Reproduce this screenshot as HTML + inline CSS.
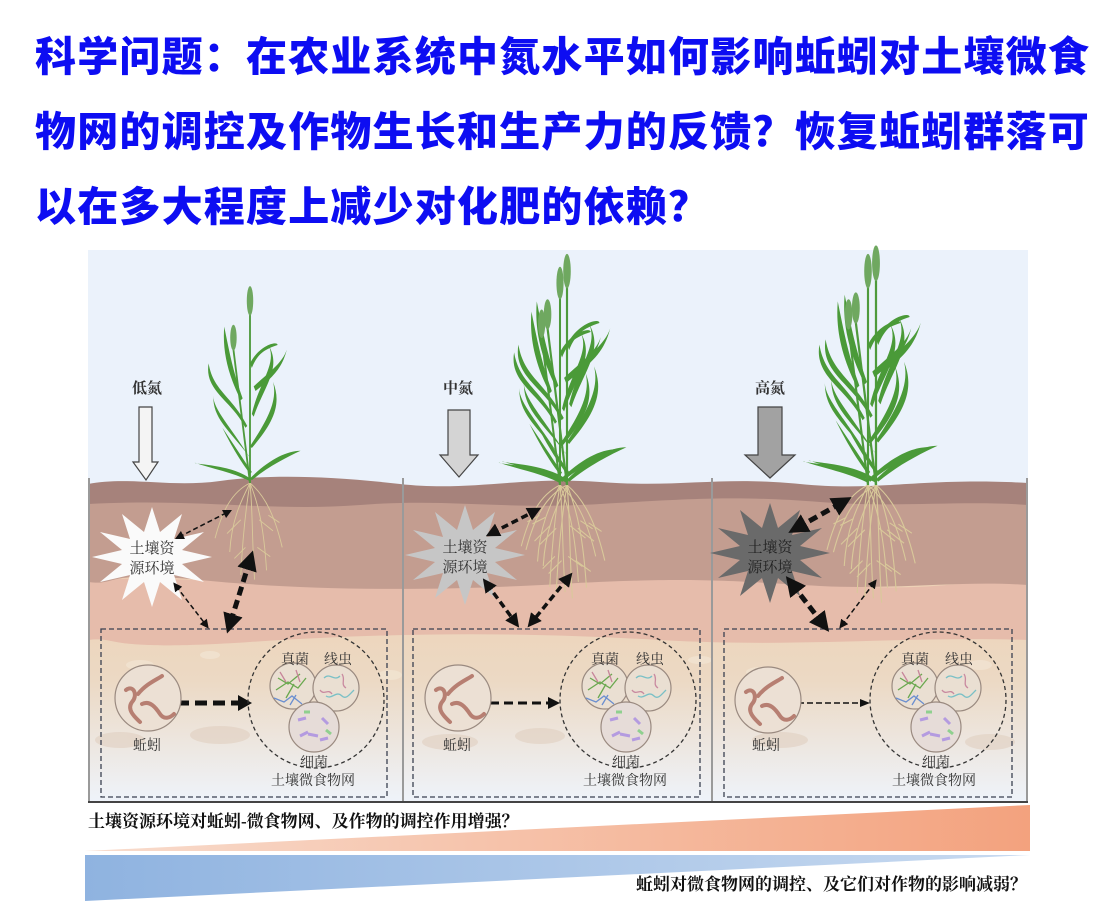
<!DOCTYPE html>
<html><head><meta charset="utf-8">
<style>
html,body{margin:0;padding:0;background:#fff;width:1116px;height:916px;overflow:hidden}
.t{position:absolute;left:35px;font-family:"Noto Sans CJK SC","Liberation Sans",sans-serif;font-weight:900;font-size:41px;color:#0d0df2;letter-spacing:1.2px;white-space:nowrap;line-height:50px}
svg{position:absolute;left:0;top:0}
.s{font-family:"Liberation Serif","Noto Serif CJK SC",serif;fill:#333}
</style></head><body>
<div class="t" style="top:28px">科学问题：在农业系统中氮水平如何影响蚯蚓对土壤微食</div>
<div class="t" style="top:103px">物网的调控及作物生长和生产力的反馈？恢复蚯蚓群落可</div>
<div class="t" style="top:178px">以在多大程度上减少对化肥的依赖？</div>
<svg width="1116" height="916" viewBox="0 0 1116 916">
<defs>
<linearGradient id="low" x1="0" y1="0" x2="0" y2="1">
<stop offset="0" stop-color="#e8bfab"/><stop offset="0.12" stop-color="#eed3b7"/>
<stop offset="0.5" stop-color="#ecd9c4"/><stop offset="1" stop-color="#eef3fa"/>
</linearGradient>
<linearGradient id="og" x1="0" y1="0" x2="1" y2="0">
<stop offset="0" stop-color="#f8dccd"/><stop offset="1" stop-color="#f3a27e"/></linearGradient>
<linearGradient id="bg" x1="0" y1="0" x2="1" y2="0">
<stop offset="0" stop-color="#8fb3e0"/><stop offset="1" stop-color="#c8daf0"/></linearGradient>
<marker id="mt" viewBox="0 0 10 10" refX="5" refY="5" markerWidth="6" markerHeight="6" orient="auto-start-reverse"><path d="M0,0L10,5L0,10z" fill="#111"/></marker>
<marker id="mk" viewBox="0 0 10 10" refX="5" refY="5" markerWidth="4" markerHeight="4" orient="auto-start-reverse"><path d="M0,0L10,5L0,10z" fill="#111"/></marker>
<g id="plant">
<g stroke="#d9c99a" stroke-width="1" fill="none">
<path d="M0,0 C-10,20 -20,40 -22,75"/><path d="M0,0 C-5,30 -8,60 -10,100"/><path d="M0,0 C3,30 2,60 5,105"/>
<path d="M0,0 C10,25 15,50 18,95"/><path d="M0,0 C18,15 28,40 35,70"/><path d="M0,0 C-20,10 -30,30 -38,60"/>
<path d="M-10,40 l-15,15 M10,40 l15,12 M-5,70 l-12,12 M8,70 l14,10 M-20,30 l-12,6 M20,35 l12,8"/>
</g>
<g stroke="#4e9a3c" stroke-width="2" fill="none">
<path d="M0,0 L0,-185"/><path d="M0,0 L-18,-145"/>
</g>
<g fill="#4a9a38">
<path d="M0,-5 C-20,-20 -60,-20 -60,-22 C-40,-15 -20,-12 0,-2z"/>
<path d="M0,-5 C20,-25 40,-35 55,-35 C40,-28 20,-18 2,-3z"/>
<path d="M0,-10 C-15,-30 -25,-50 -30,-60 C-20,-45 -10,-30 2,-12z"/>
<path d="M-2,-30 C-20,-60 -40,-80 -40,-95 C-40,-70 -25,-60 0,-28z"/>
<path d="M0,-40 C20,-70 30,-90 25,-110 C35,-85 25,-65 2,-38z"/>
<path d="M-5,-60 C-20,-90 -50,-100 -45,-130 C-40,-100 -20,-95 -3,-62z"/>
<path d="M2,-75 C10,-110 30,-130 20,-150 C35,-125 15,-105 4,-72z"/>
<path d="M-10,-90 C-25,-120 -30,-145 -28,-170 C-22,-140 -18,-120 -8,-92z"/>
<path d="M0,-130 C10,-150 30,-155 30,-150 C15,-145 8,-140 2,-125z"/>
<path d="M4,-105 C20,-120 35,-130 40,-145 C35,-125 25,-115 6,-100z"/>
</g>
<ellipse cx="0" cy="-198" rx="3.5" ry="16" fill="#6fa860"/>
<ellipse cx="-18" cy="-158" rx="3.5" ry="14" fill="#6fa860"/>
</g>
<polygon id="star" points="60,0 30,7 52,25 22,18 30,43 8,25 0,50 -8,25 -30,43 -22,18 -52,25 -30,7 -60,0 -30,-7 -52,-25 -22,-18 -30,-43 -8,-25 0,-50 8,-25 30,-43 22,-18 52,-25 30,-7"/>
<g id="web">
<circle cx="0" cy="0" r="68" fill="none" stroke="#333" stroke-width="1.3" stroke-dasharray="4,3"/>
<circle cx="-23" cy="-14" r="23" fill="#eadfd2" stroke="#9a8a80" stroke-width="1.2"/>
<circle cx="20" cy="-12" r="23" fill="#eadfd2" stroke="#9a8a80" stroke-width="1.2"/>
<circle cx="-2" cy="27" r="25" fill="#e6dcd8" stroke="#9a8a80" stroke-width="1.2"/>
<g fill="none" stroke-width="1.3">
<path d="M-40,-10 l12,-8 l10,6 l8,-10 M-38,-22 l10,6 l12,-10 M-30,-2 l8,-14" stroke="#6aa84f"/>
<path d="M-42,-2 l10,4 l8,-6 l10,8 M-26,5 l6,-10" stroke="#6b8fd0"/>
<path d="M-36,-28 l6,10 M-20,-30 l4,12" stroke="#c7869a"/>
<path d="M8,-22 c6,-6 10,4 16,-2 M10,-4 c6,4 10,-6 16,0 c4,4 8,-2 12,-6" stroke="#7ac0c6"/>
<path d="M4,-10 c4,6 8,-2 12,4 M26,-26 c4,6 -2,10 4,14" stroke="#c98aa0"/>
<path d="M-18,20 l8,-2 M-8,34 l10,2 M6,18 l6,6 M-16,36 l8,-4 M4,40 l8,-2" stroke="#b49be0" stroke-width="3"/>
<path d="M-12,12 l6,0 M10,30 l5,4" stroke="#8fd08f" stroke-width="3"/>
</g>
</g>
<g id="worm">
<circle cx="0" cy="0" r="33" fill="#ece0d4" stroke="#9a8a80" stroke-width="1.2"/>
<g fill="none" stroke="#b77f72" stroke-width="4" stroke-linecap="round">
<path d="M-22,-8 c8,-6 12,6 6,12 c-6,8 4,16 8,20"/>
<path d="M-10,-4 c8,-10 18,-14 24,-18"/>
<path d="M-6,6 c8,-4 14,4 18,10 c4,6 10,4 14,0"/>
</g>
</g>
</defs>
<rect x="88" y="250" width="940" height="240" fill="#ebf2fb"/>
<rect x="88" y="560" width="940" height="242" fill="url(#low)"/>
<path d="M88,580 C200,575 300,590 420,582 S700,574 820,584 S960,578 1028,582 L1028,640 C900,636 800,648 660,640 S400,632 250,642 S120,636 88,640z" fill="#e6bcab"/>
<path d="M88,498 L1028,498 L1028,585 C960,580 900,590 820,586 S700,576 560,584 S300,590 200,580 S120,586 88,582z" fill="#c39d90"/>
<path d="M88,484 C130,476 170,488 220,481 S330,476 400,484 S520,476 600,482 S720,476 800,484 S920,477 1028,483 L1028,505 C960,500 900,508 820,502 S700,498 600,504 S450,498 360,505 S200,498 88,504z" fill="#a6827b"/>
<g fill="#f2e6d4" opacity="0.7">
<ellipse cx="140" cy="665" rx="14" ry="5"/><ellipse cx="210" cy="655" rx="10" ry="4"/><ellipse cx="390" cy="675" rx="12" ry="5"/>
<ellipse cx="460" cy="670" rx="14" ry="5"/><ellipse cx="700" cy="660" rx="12" ry="4"/><ellipse cx="760" cy="672" rx="14" ry="5"/><ellipse cx="980" cy="665" rx="12" ry="5"/>
</g>
<g fill="#e0cfc0" opacity="0.6">
<ellipse cx="120" cy="740" rx="25" ry="8"/><ellipse cx="220" cy="735" rx="30" ry="9"/><ellipse cx="450" cy="742" rx="28" ry="8"/><ellipse cx="540" cy="736" rx="25" ry="8"/><ellipse cx="780" cy="740" rx="28" ry="8"/><ellipse cx="990" cy="742" rx="25" ry="8"/>
</g>
<g stroke="#9a9a9a" stroke-width="2">
<line x1="89" y1="478" x2="89" y2="802"/><line x1="403" y1="478" x2="403" y2="802"/><line x1="712" y1="478" x2="712" y2="802"/><line x1="1027" y1="478" x2="1027" y2="802"/>
</g>
<line x1="88" y1="802" x2="1028" y2="802" stroke="#444" stroke-width="2"/>

<use href="#plant" transform="translate(250,483) scale(0.92)"/>
<use href="#plant" transform="translate(567,485) scale(1.08)"/>
<use href="#plant" transform="translate(876,485) scale(1.12)"/>
<use href="#plant" transform="translate(560,485) scale(1.02)"/>
<use href="#plant" transform="translate(868,485) scale(1.08)"/>

<path d="M139,407 H152 V462 H158 L146,480 L133,462 H139z" fill="#f4f4f4" stroke="#444" stroke-width="1.2"/>
<path d="M448,410 H470 V455 H478 L459,477 L440,455 H448z" fill="#d4d4d4" stroke="#444" stroke-width="1.2"/>
<path d="M758,407 H782 V455 H795 L770,478 L745,455 H758z" fill="#a2a2a2" stroke="#444" stroke-width="1.2"/>
<g class="s" font-size="15" font-weight="bold" text-anchor="middle">
<text x="147" y="393">低氮</text><text x="458" y="393">中氮</text><text x="770" y="393">高氮</text>
</g>

<use href="#star" transform="translate(152,557)" fill="#fafafa"/>
<use href="#star" transform="translate(465,555)" fill="#c6c6c6"/>
<use href="#star" transform="translate(770,553)" fill="#6a6a6a"/>
<g class="s" font-size="15" text-anchor="middle">
<text x="152" y="553">土壤资</text><text x="152" y="573">源环境</text>
<text x="465" y="552">土壤资</text><text x="465" y="572">源环境</text>
<text x="770" y="552" style="fill:#222">土壤资</text><text x="770" y="572" style="fill:#222">源环境</text>
</g>

<g fill="none" stroke="#3a4050" stroke-width="1.3" stroke-dasharray="5,3">
<rect x="101" y="629" width="286" height="168"/>
<rect x="413" y="629" width="287" height="168"/>
<rect x="724" y="629" width="288" height="168"/>
</g>
<g fill="none" stroke="#111">
<line x1="179" y1="537" x2="228" y2="512" stroke-width="1.5" stroke-dasharray="5,3" marker-start="url(#mt)" marker-end="url(#mt)"/>
<line x1="176" y1="586" x2="206" y2="625" stroke-width="1.5" stroke-dasharray="5,3" marker-start="url(#mt)" marker-end="url(#mt)"/>
<line x1="250" y1="560" x2="230" y2="624" stroke-width="5" stroke-dasharray="9,5" marker-start="url(#mk)" marker-end="url(#mk)"/>
<line x1="177" y1="703" x2="240" y2="703" stroke-width="5" stroke-dasharray="12,6"/>
<path d="M238,695 L252,703 L238,711z" fill="#111" stroke="none"/>

<line x1="492" y1="533" x2="535" y2="511" stroke-width="3.5" stroke-dasharray="7,4" marker-start="url(#mk)" marker-end="url(#mk)"/>
<line x1="487" y1="584" x2="515" y2="622" stroke-width="3.5" stroke-dasharray="7,4" marker-start="url(#mk)" marker-end="url(#mk)"/>
<line x1="568" y1="578" x2="532" y2="622" stroke-width="3.5" stroke-dasharray="7,4" marker-start="url(#mk)" marker-end="url(#mk)"/>
<line x1="490" y1="703" x2="550" y2="703" stroke-width="3" stroke-dasharray="9,5"/>
<path d="M548,697 L560,703 L548,709z" fill="#111" stroke="none"/>

<line x1="797" y1="528" x2="843" y2="502" stroke-width="5" stroke-dasharray="9,5" marker-start="url(#mk)" marker-end="url(#mk)"/>
<line x1="792" y1="584" x2="823" y2="624" stroke-width="5" stroke-dasharray="9,5" marker-start="url(#mk)" marker-end="url(#mk)"/>
<line x1="874" y1="583" x2="842" y2="625" stroke-width="1.5" stroke-dasharray="5,3" marker-start="url(#mt)" marker-end="url(#mt)"/>
<line x1="798" y1="703" x2="862" y2="703" stroke-width="1.5" stroke-dasharray="6,3"/>
<path d="M860,699 L870,703 L860,707z" fill="#111" stroke="none"/>
</g>

<use href="#worm" transform="translate(148,698)"/>
<use href="#worm" transform="translate(458,698)"/>
<use href="#worm" transform="translate(768,700)"/>
<use href="#web" transform="translate(316,700)"/>
<use href="#web" transform="translate(628,700)"/>
<use href="#web" transform="translate(938,700)"/>
<g class="s" font-size="14" text-anchor="middle">
<text x="147" y="750">蚯蚓</text><text x="295" y="664">真菌</text><text x="338" y="664">线虫</text><text x="314" y="767">细菌</text><text x="313" y="785">土壤微食物网</text>
<text x="457" y="750">蚯蚓</text><text x="605" y="664">真菌</text><text x="650" y="664">线虫</text><text x="626" y="767">细菌</text><text x="625" y="785">土壤微食物网</text>
<text x="766" y="750">蚯蚓</text><text x="915" y="664">真菌</text><text x="959" y="664">线虫</text><text x="936" y="767">细菌</text><text x="934" y="785">土壤微食物网</text>
</g>

<polygon points="85,851 1030,805 1030,851" fill="url(#og)"/>
<polygon points="85,855 1030,855 85,901" fill="url(#bg)"/>
<g class="s" font-size="17" font-weight="bold" style="fill:#111">
<text x="88" y="827">土壤资源环境对蚯蚓-微食物网、及作物的调控作用增强？</text>
<text x="1027" y="890" text-anchor="end">蚯蚓对微食物网的调控、及它们对作物的影响减弱？</text>
</g>
</svg>
</body></html>
